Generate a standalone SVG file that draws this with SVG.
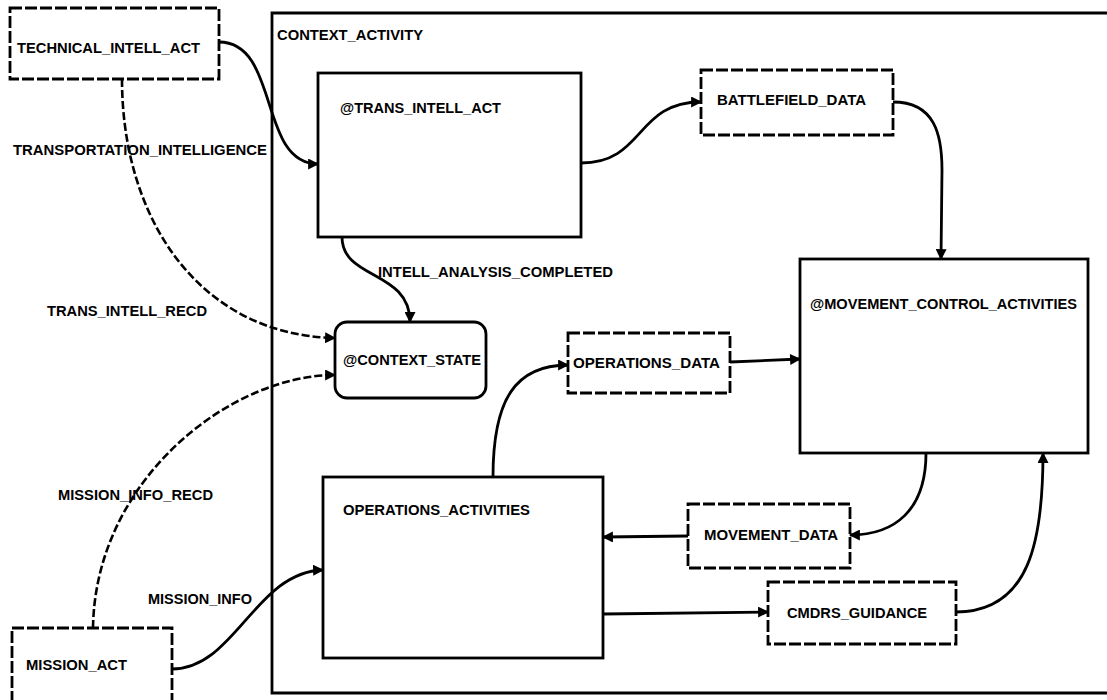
<svg xmlns="http://www.w3.org/2000/svg" width="1107" height="700" viewBox="0 0 1107 700">
<style>
.box{fill:none;stroke:#000;stroke-width:2.8}
.dbox{fill:none;stroke:#000;stroke-width:2.8;stroke-dasharray:12 3}
.t{font-family:"Liberation Sans",Arial,sans-serif;font-weight:bold;font-size:14.5px;fill:#000}
.c{fill:none;stroke:#000;stroke-width:2.8}
.dc{fill:none;stroke:#000;stroke-width:2.6;stroke-dasharray:8 3}
</style>
<defs>
<marker id="ah" viewBox="0 0 10 10" refX="9" refY="5" markerWidth="13" markerHeight="11" markerUnits="userSpaceOnUse" orient="auto">
<path d="M0,0 L10,5 L0,10 z" fill="#000"/>
</marker>
</defs>
<rect width="1107" height="700" fill="#fff"/>

<g id="context_activity">
<path class="box" d="M1110,13 H272 V693 H1110"/>
<text class="t" x="277" y="40" textLength="146" lengthAdjust="spacingAndGlyphs">CONTEXT_ACTIVITY</text>
</g>

<g id="technical_intell_act">
<rect class="dbox" x="10" y="8" width="209" height="71"/>
<text class="t" x="17" y="53" textLength="183" lengthAdjust="spacingAndGlyphs">TECHNICAL_INTELL_ACT</text>
</g>

<g id="trans_intell_act">
<rect class="box" x="318" y="73" width="263" height="164"/>
<text class="t" x="340" y="113" textLength="161" lengthAdjust="spacingAndGlyphs">@TRANS_INTELL_ACT</text>
</g>

<g id="battlefield_data">
<rect class="dbox" x="701" y="70" width="192" height="65"/>
<text class="t" x="717" y="105" textLength="149" lengthAdjust="spacingAndGlyphs">BATTLEFIELD_DATA</text>
</g>

<g id="movement_control_activities">
<rect class="box" x="800" y="259" width="288" height="194"/>
<text class="t" x="810" y="309" textLength="267" lengthAdjust="spacingAndGlyphs">@MOVEMENT_CONTROL_ACTIVITIES</text>
</g>

<g id="context_state">
<rect class="box" x="335" y="322" width="151" height="76" rx="12"/>
<text class="t" x="343" y="365" textLength="138" lengthAdjust="spacingAndGlyphs">@CONTEXT_STATE</text>
</g>

<g id="operations_data">
<rect class="dbox" x="568" y="333" width="162" height="60"/>
<text class="t" x="573" y="368" textLength="147" lengthAdjust="spacingAndGlyphs">OPERATIONS_DATA</text>
</g>

<g id="operations_activities">
<rect class="box" x="323" y="477" width="280" height="181"/>
<text class="t" x="343" y="515" textLength="187" lengthAdjust="spacingAndGlyphs">OPERATIONS_ACTIVITIES</text>
</g>

<g id="movement_data">
<rect class="dbox" x="688" y="504" width="162" height="64"/>
<text class="t" x="704" y="540" textLength="134" lengthAdjust="spacingAndGlyphs">MOVEMENT_DATA</text>
</g>

<g id="cmdrs_guidance">
<rect class="dbox" x="768" y="582" width="188" height="62"/>
<text class="t" x="787" y="618" textLength="140" lengthAdjust="spacingAndGlyphs">CMDRS_GUIDANCE</text>
</g>

<g id="mission_act">
<rect class="dbox" x="12" y="628" width="160" height="80"/>
<text class="t" x="26" y="670" textLength="101" lengthAdjust="spacingAndGlyphs">MISSION_ACT</text>
</g>

<g id="labels">
<text class="t" x="13" y="155" textLength="254" lengthAdjust="spacingAndGlyphs">TRANSPORTATION_INTELLIGENCE</text>
<text class="t" x="47" y="316" textLength="160" lengthAdjust="spacingAndGlyphs">TRANS_INTELL_RECD</text>
<text class="t" x="378" y="277" textLength="235" lengthAdjust="spacingAndGlyphs">INTELL_ANALYSIS_COMPLETED</text>
<text class="t" x="58" y="500" textLength="155" lengthAdjust="spacingAndGlyphs">MISSION_INFO_RECD</text>
<text class="t" x="148" y="604" textLength="104" lengthAdjust="spacingAndGlyphs">MISSION_INFO</text>
</g>

<g id="connectors">
<path class="c" marker-end="url(#ah)" d="M219,42 C280,42 258,164 318,164"/>
<path class="c" marker-end="url(#ah)" d="M581,163 C645,163 635,102 701,102"/>
<path class="c" marker-end="url(#ah)" d="M893,102 C935,102 942,135 942,170 L941,259"/>
<path class="c" marker-end="url(#ah)" d="M730,362 L800,359"/>
<path class="c" marker-end="url(#ah)" d="M926,453 C926,510 895,535 850,535"/>
<path class="c" marker-end="url(#ah)" d="M688,536 L603,537"/>
<path class="c" marker-end="url(#ah)" d="M603,614 L768,612"/>
<path class="c" marker-end="url(#ah)" d="M956,612 C1030,612 1043,540 1043,453"/>
<path class="c" marker-end="url(#ah)" d="M493,477 C493,400 515,365 568,365"/>
<path class="c" marker-end="url(#ah)" d="M172,669 C235,669 255,572 323,570"/>
<path class="c" marker-end="url(#ah)" d="M342,237 C342,280 410,270 410,322"/>
<path class="dc" marker-end="url(#ah)" d="M93,628 C95,480 230,375 335,375"/>
<path class="dc" marker-end="url(#ah)" d="M122,79 C122,220 200,335 335,338"/>
</g>
</svg>
